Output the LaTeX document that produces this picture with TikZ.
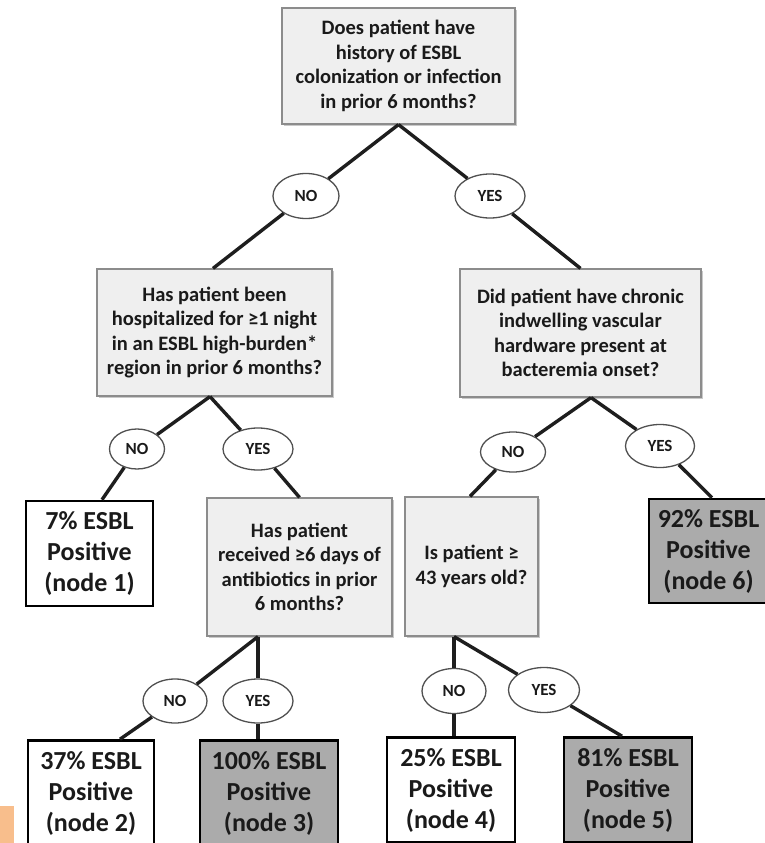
\documentclass[tikz,border=0pt]{standalone}
\usepackage{fontspec}
\setmainfont{Carlito}
\usetikzlibrary{shapes.geometric,shadows}
\definecolor{qfill}{HTML}{EFEFEF}
\definecolor{qborder}{HTML}{8C8C8C}
\definecolor{leafgray}{HTML}{ABABAB}
\definecolor{linecol}{HTML}{1E1E1E}
\definecolor{txt}{HTML}{1A1A1A}
\definecolor{ellborder}{HTML}{505050}
\definecolor{orangetab}{HTML}{F8BE8C}
\tikzset{
  question/.style={draw=qborder, line width=1.2pt, fill=qfill,
    drop shadow={shadow xshift=1.5pt, shadow yshift=-2pt, fill=black!35, opacity=0.6},
    font=\bfseries\fontsize{20.5}{24.5}\selectfont, text=txt, align=center, inner sep=0pt},
  leaf/.style={draw=black, line width=2.6pt, fill=white,
    font=\bfseries\fontsize{26}{31}\selectfont, text=txt, align=center, inner sep=0pt},
  leafdark/.style={leaf, fill=leafgray},
  yn/.style={ellipse, draw=ellborder, line width=1.3pt, fill=white,
    font=\bfseries\fontsize{17}{17}\selectfont, text=txt, inner sep=0pt},
  conn/.style={draw=linecol, line width=3.4pt}
}
\begin{document}
\begin{tikzpicture}[x=1pt,y=-1pt]
\useasboundingbox (0,0) rectangle (765,843);
\clip (0,0) rectangle (765,843);
\fill[white] (0,0) rectangle (765,843);

% question boxes
\node[question, minimum width=233pt, minimum height=116pt] (q1) at (398.5,66)
  {Does patient have\\history of ESBL\\colonization or infection\\in prior 6 months?};
\node[question, minimum width=235pt, minimum height=127pt] (q2) at (214.5,332.5)
  {Has patient been\\hospitalized for ≥1 night\\in an ESBL high-burden*\\region in prior 6 months?};
\node[question, minimum width=241pt, minimum height=128pt] (qr) at (580.5,333)
  {Did patient have chronic\\indwelling vascular\\hardware present at\\bacteremia onset?};
\node[question, minimum width=185pt, minimum height=138pt] (q3) at (299.5,567)
  {Has patient\\received ≥6 days of\\antibiotics in prior\\6 months?};
\node[question, minimum width=133pt, minimum height=139pt] (q4) at (471.5,566.5)
  {Is patient ≥\\43 years old?};

% leaves
\node[leaf, minimum width=127pt, minimum height=105pt] (l1) at (89.5,553.5)
  {7\% ESBL\\Positive\\(node 1)};
\node[leafdark, minimum width=119pt, minimum height=104pt] (l6) at (708.5,551)
  {92\% ESBL\\Positive\\(node 6)};
\node[leaf, minimum width=126pt, minimum height=105pt] (l2) at (91,793)
  {37\% ESBL\\Positive\\(node 2)};
\node[leafdark, minimum width=138pt, minimum height=105pt] (l3) at (269,793)
  {100\% ESBL\\Positive\\(node 3)};
\node[leaf, minimum width=128pt, minimum height=105pt] (l4) at (451,790)
  {25\% ESBL\\Positive\\(node 4)};
\node[leafdark, minimum width=128pt, minimum height=105pt] (l5) at (628,790)
  {81\% ESBL\\Positive\\(node 5)};

% yes/no ellipses
\node[yn, minimum width=66pt, minimum height=45pt] (e1n) at (306,196) {NO};
\node[yn, minimum width=70pt, minimum height=44pt] (e1y) at (490,196) {YES};
\node[yn, minimum width=55pt, minimum height=40pt] (e2n) at (137,449) {NO};
\node[yn, minimum width=70pt, minimum height=42pt] (e2y) at (258,449) {YES};
\node[yn, minimum width=65pt, minimum height=40pt] (e3n) at (513,452) {NO};
\node[yn, minimum width=69pt, minimum height=43pt] (e3y) at (660,446) {YES};
\node[yn, minimum width=64pt, minimum height=44pt] (e4n) at (175,701) {NO};
\node[yn, minimum width=70pt, minimum height=44pt] (e4y) at (258,701) {YES};
\node[yn, minimum width=64pt, minimum height=45pt] (e5n) at (454,691) {NO};
\node[yn, minimum width=71pt, minimum height=45pt] (e5y) at (544,690) {YES};

% connectors
\draw[conn] (q1.south) -- (e1n);
\draw[conn] (e1n) -- ([xshift=-1.5pt]q2.north);
\draw[conn] (q1.south) -- (e1y);
\draw[conn] (e1y) -- (qr.north);

\draw[conn] ([xshift=-4.5pt]q2.south) -- (e2n);
\draw[conn] (e2n) -- ([xshift=12.5pt]l1.north);
\draw[conn] ([xshift=-4.5pt]q2.south) -- (e2y);
\draw[conn] (e2y) -- (q3.north);

\draw[conn] ([xshift=10.5pt]qr.south) -- (e3n);
\draw[conn] (e3n) -- ([xshift=-1.5pt]q4.north);
\draw[conn] ([xshift=10.5pt]qr.south) -- (e3y);
\draw[conn] (e3y) -- ([xshift=3.5pt]l6.north);

\draw[conn] ([xshift=-41.5pt]q3.south) -- (e4n);
\draw[conn] (e4n) -- ([xshift=29pt]l2.north);
\draw[conn] ([xshift=-41.5pt]q3.south) -- (e4y);
\draw[conn] (e4y) -- ([xshift=-11pt]l3.north);

\draw[conn] ([xshift=-17.5pt]q4.south) -- (e5n);
\draw[conn] (e5n) -- ([xshift=3pt]l4.north);
\draw[conn] ([xshift=-17.5pt]q4.south) -- (e5y);
\draw[conn] (e5y) -- ([xshift=-6pt]l5.north);

% orange tab
\fill[orangetab] (0,806) rectangle (14,843);
\end{tikzpicture}
\end{document}
